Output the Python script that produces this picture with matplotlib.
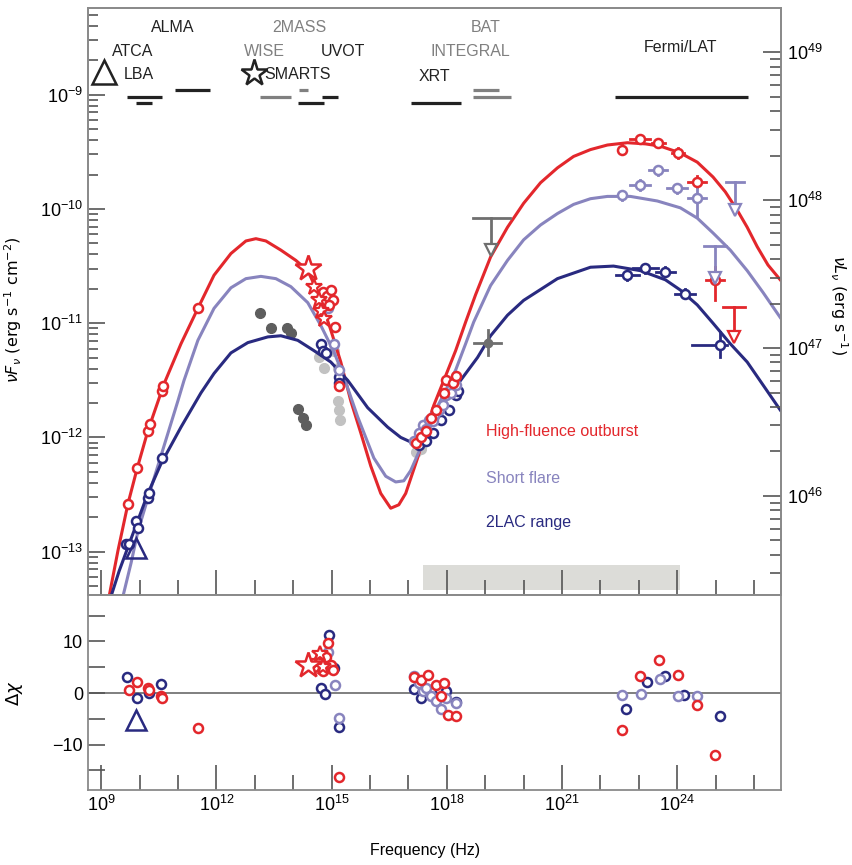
import numpy as np
import matplotlib
matplotlib.use('Agg')
import matplotlib.pyplot as plt
from matplotlib.ticker import FixedLocator, LogLocator, NullFormatter

plt.rcParams['font.family'] = ['Liberation Sans', 'DejaVu Sans']

RED = '#e3272c'
LILAC = '#8884be'
NAVY = '#292a80'
DGREY = '#5e5e5e'
LGREY = '#c2c2c2'
TGREY = '#808080'
INK = '#222222'

# ---- model curves: log10(nu / Hz), log10(nuFnu / erg s-1 cm-2) ----
red_curve_x = [9.21, 9.44, 9.70, 9.94, 10.22, 10.64, 11.08, 11.52, 11.94, 12.38, 12.77, 13.03,
               13.29, 13.68, 14.07, 14.38, 14.67, 14.98, 15.24, 15.50, 15.76, 16.02, 16.28,
               16.54, 16.75, 16.93, 17.24, 17.45, 17.66, 17.97, 18.23, 18.49, 18.75, 19.14,
               19.58, 20.00, 20.44, 20.88, 21.30, 21.74, 22.18, 22.70, 23.17, 23.56, 24.08,
               24.52, 24.93, 25.25, 25.56, 25.82, 26.08, 26.36, 26.68]
red_curve_y = [-13.39, -12.99, -12.58, -12.27, -11.94, -11.53, -11.18, -10.87, -10.58, -10.39,
               -10.28, -10.26, -10.28, -10.36, -10.45, -10.54, -10.75, -11.06, -11.34, -11.68,
               -11.96, -12.25, -12.49, -12.62, -12.59, -12.49, -12.18, -11.94, -11.72, -11.46,
               -11.24, -10.99, -10.75, -10.42, -10.16, -9.95, -9.77, -9.64, -9.54, -9.48,
               -9.44, -9.42, -9.43, -9.45, -9.51, -9.59, -9.72, -9.85, -10.01, -10.16, -10.33,
               -10.49, -10.62]

lilac_curve_x = [9.57, 9.78, 9.96, 10.22, 10.56, 11.00, 11.16, 11.52, 11.94, 12.38, 12.77, 13.16,
                 13.55, 13.94, 14.38, 14.72, 15.06, 15.32, 15.68, 16.10, 16.41, 16.67, 16.88,
                 17.06, 17.40, 17.71, 17.97, 18.23, 18.49, 18.70, 19.14, 19.58, 20.00, 20.44,
                 20.88, 21.30, 21.74, 22.18, 22.78, 23.48, 24.08, 24.52, 24.93, 25.38, 25.82,
                 26.23, 26.68]
lilac_curve_y = [-13.39, -13.10, -12.82, -12.53, -12.16, -11.68, -11.50, -11.15, -10.87, -10.69,
                 -10.61, -10.59, -10.61, -10.68, -10.82, -11.02, -11.25, -11.47, -11.82, -12.18,
                 -12.34, -12.39, -12.38, -12.29, -12.03, -11.76, -11.59, -11.41, -11.18, -10.99,
                 -10.67, -10.45, -10.27, -10.14, -10.04, -9.96, -9.91, -9.89, -9.89, -9.93,
                 -9.99, -10.08, -10.21, -10.36, -10.54, -10.73, -10.95]

navy_curve_x = [9.26, 9.47, 9.70, 10.22, 10.56, 11.08, 11.60, 11.94, 12.38, 12.82, 13.34, 13.68,
                14.12, 14.54, 14.98, 15.42, 15.94, 16.46, 16.80, 17.06, 17.40, 17.84, 18.36,
                18.80, 19.14, 19.58, 20.00, 20.88, 21.74, 22.34, 23.04, 23.69, 24.08, 24.52,
                24.93, 25.38, 25.82, 26.23, 26.68]
navy_curve_y = [-13.39, -13.17, -12.96, -12.49, -12.23, -11.91, -11.61, -11.44, -11.26, -11.17,
                -11.12, -11.11, -11.15, -11.24, -11.34, -11.50, -11.74, -11.91, -12.00, -12.04,
                -12.00, -11.74, -11.50, -11.30, -11.11, -10.93, -10.80, -10.61, -10.51, -10.50,
                -10.54, -10.62, -10.71, -10.84, -11.00, -11.18, -11.34, -11.54, -11.76]

# ---- measurements (log10 nu, log10 nuFnu) ----
red_pts_x = [9.70, 9.94, 10.22, 10.27, 10.59, 10.61, 11.52,
             14.77, 14.87, 14.98, 15.03, 14.93, 15.08, 15.19,
             17.19, 17.32, 17.45, 17.58, 17.71, 17.92, 17.99, 18.15, 18.25]
red_pts_y = [-12.58, -12.27, -11.94, -11.88, -11.59, -11.55, -10.87,
             -10.73, -10.76, -10.71, -10.80, -10.84, -11.03, -11.55,
             -12.05, -12.00, -11.94, -11.83, -11.76, -11.61, -11.50, -11.52, -11.46]
red_star_x = [14.54, 14.67, 14.72, 14.80]
red_star_y = [-10.68, -10.80, -10.89, -10.96]
red_bigstar = (14.38, -10.52)

lilac_pts_x = [14.90, 15.06, 15.19,
               17.14, 17.27, 17.37, 17.53, 17.66, 17.79, 17.89, 17.99, 18.10, 18.23, 17.45, 17.63]
lilac_pts_y = [-10.87, -11.18, -11.41,
               -12.03, -11.96, -11.89, -11.85, -11.81, -11.76, -11.72, -11.63, -11.61, -11.54,
               -11.93, -11.86]

navy_pts_x = [9.65, 9.73, 9.91, 9.96, 10.22, 10.25, 10.59,
              14.72, 14.77, 14.85, 15.19, 15.19,
              17.27, 17.45, 17.63, 17.84, 18.05, 18.25, 18.30]
navy_pts_y = [-12.93, -12.93, -12.73, -12.79, -12.53, -12.49, -12.18,
              -11.18, -11.24, -11.26, -11.47, -11.52,
              -12.07, -12.03, -11.96, -11.85, -11.76, -11.63, -11.59]
navy_lba = (9.91, -12.97)

dgrey_x = [13.13, 13.42, 13.83, 13.94, 14.12, 14.25, 14.33]
dgrey_y = [-10.91, -11.04, -11.04, -11.09, -11.75, -11.83, -11.89]
lgrey_x = [14.67, 14.80, 15.06, 15.16, 15.16, 15.19, 15.21, 17.19, 17.32]
lgrey_y = [-11.30, -11.39, -11.24, -11.39, -11.68, -11.76, -11.85, -12.13, -12.10]

# gamma-ray spectra: x, y, half-width low/high (dex), y error low/high (dex)
red_gam_x = [22.57, 23.04, 23.50, 24.02, 24.52, 24.98]
red_gam_y = [-9.48, -9.39, -9.42, -9.51, -9.76, -10.62]
red_gam_dx = [0.0, 0.26, 0.17, 0.15, 0.23, 0.23]
red_gam_dylo = [0.04, 0.03, 0.03, 0.04, 0.05, 0.18]
red_gam_dyhi = [0.04, 0.03, 0.03, 0.04, 0.05, 0.11]

lilac_gam_x = [22.57, 23.04, 23.50, 24.00, 24.52]
lilac_gam_y = [-9.88, -9.79, -9.66, -9.82, -9.90]
lilac_gam_dx = [0.0, 0.26, 0.23, 0.26, 0.23]
lilac_gam_dylo = [0.04, 0.04, 0.04, 0.04, 0.17]
lilac_gam_dyhi = [0.04, 0.04, 0.04, 0.04, 0.13]

navy_gam_x = [22.70, 23.17, 23.69, 24.21, 25.11]
navy_gam_y = [-10.58, -10.52, -10.55, -10.74, -11.19]
navy_gam_dxlo = [0.30, 0.32, 0.25, 0.26, 0.73]
navy_gam_dxhi = [0.30, 0.32, 0.25, 0.26, 0.18]
navy_gam_dy = [0.04, 0.04, 0.04, 0.04, 0.11]

# upper limits: x, y, half-width, arrow tip
red_ul = (25.48, -10.86, 0.28, -11.12)
lilac_ul = [(24.98, -10.32, 0.28, -10.60), (25.51, -9.76, 0.23, -10.01)]
grey_ul = (19.16, -10.08, 0.48, -10.36)
grey_cross = (19.06, -11.17, 0.35, 0.11)

# ---- residuals (log10 nu, delta chi) ----
res_red_x = [9.73, 9.94, 10.22, 10.25, 10.56, 10.59, 11.52,
             14.54, 14.67, 14.77, 14.85, 14.90, 14.98, 15.03, 15.19,
             17.14, 17.32, 17.50, 17.71, 17.84, 17.92, 18.02, 18.25,
             22.57, 23.04, 23.53, 24.02, 24.52, 24.98]
res_red_y = [0.6, 2.1, 1.0, 0.5, -0.6, -1.0, -6.8,
             5.0, 6.5, 4.2, 7.0, 9.7, 5.5, 4.5, -16.3,
             3.1, 2.5, 3.5, 1.5, -0.5, 2.0, -4.3, -4.5,
             -7.2, 3.3, 6.4, 3.5, -2.3, -12.1]
res_red_star_x = [14.62, 14.70, 14.78]
res_red_star_y = [6.0, 7.5, 5.0]
res_red_bigstar = (14.38, 5.4)

res_lilac_x = [14.90, 15.08, 15.19,
               17.14, 17.27, 17.37, 17.45, 17.58, 17.71, 17.84, 17.99, 18.23,
               22.57, 23.06, 23.56, 24.02, 24.52]
res_lilac_y = [8.0, 1.6, -4.9,
               3.3, 2.0, 0.3, 1.0, -0.5, -1.5, -3.0, -1.0, -2.0,
               -0.4, -0.2, 2.7, -0.6, -0.6]

res_navy_x = [9.68, 9.94, 10.25, 10.56,
              14.72, 14.82, 14.93, 15.06, 15.19,
              17.14, 17.32, 17.58, 17.97, 18.25,
              22.67, 23.22, 23.69, 24.18, 25.11]
res_navy_y = [3.1, -1.0, 0.0, 1.7,
              1.0, -0.2, 11.3, 4.9, -6.6,
              0.8, -1.0, 0.5, 0.3, -1.7,
              -3.1, 2.1, 3.3, -0.4, -4.5]
res_navy_lba = (9.91, -5.2)

# ---- instrument coverage bars: log nu start, log nu end, log level, colour ----
bar_lo = [9.68, 9.91, 10.92, 13.13, 14.15, 14.12, 14.74, 17.08, 18.67, 18.67, 22.39]
bar_hi = [10.59, 10.33, 11.83, 13.94, 14.38, 14.80, 15.16, 18.38, 19.35, 19.68, 25.84]
bar_lev = [-9.02, -9.07, -8.96, -9.02, -8.96, -9.07, -9.02, -9.07, -8.96, -9.02, -9.02]
bar_col = [INK, INK, INK, TGREY, TGREY, INK, INK, INK, TGREY, TGREY, INK]

inst_names = ['ALMA', 'ATCA', 'LBA', '2MASS', 'WISE', 'UVOT', 'SMARTS', 'BAT', 'INTEGRAL', 'XRT', 'Fermi/LAT']
inst_x = [10.87, 9.81, 9.99, 14.15, 13.24, 15.29, 14.12, 19.01, 18.62, 17.68, 24.08]
inst_y = [-8.41, -8.62, -8.82, -8.41, -8.62, -8.62, -8.82, -8.41, -8.62, -8.84, -8.59]
inst_col = [INK, INK, INK, TGREY, TGREY, INK, INK, TGREY, TGREY, INK, INK]

legend_labels = ['High-fluence outburst', 'Short flare', '2LAC range']
legend_cols = [RED, LILAC, NAVY]

band_range = (17.37, 24.08, -13.34, -13.12)

P = lambda v: 10.0 ** np.asarray(v)

fig = plt.figure(figsize=(8.53, 8.65), dpi=100)
ax = fig.add_axes([0.1032, 0.3121, 0.8124, 0.6787])
axr = fig.add_axes([0.1032, 0.0867, 0.8124, 0.2254])
XLIM = (10 ** 8.66, 10 ** 26.7)


def circles(a, x, y, c, ms=6.5, z=5):
    a.plot(P(x), y if a is axr else P(y), 'o', ms=ms, mfc='white', mec=c, mew=1.8,
           ls='none', zorder=z)


# curves
ax.plot(P(red_curve_x), P(red_curve_y), color=RED, lw=2.2, zorder=3)
ax.plot(P(lilac_curve_x), P(lilac_curve_y), color=LILAC, lw=2.2, zorder=3)
ax.plot(P(navy_curve_x), P(navy_curve_y), color=NAVY, lw=2.2, zorder=3)

# archival grey data
ax.plot(P(dgrey_x), P(dgrey_y), 'o', ms=7, color=DGREY, ls='none', zorder=2)
ax.plot(P(lgrey_x), P(lgrey_y), 'o', ms=7, color=LGREY, ls='none', zorder=2)

# measurements
circles(ax, navy_pts_x, navy_pts_y, NAVY)
circles(ax, lilac_pts_x, lilac_pts_y, LILAC)
circles(ax, red_pts_x, red_pts_y, RED)
ax.plot(P(red_star_x), P(red_star_y), '*', ms=12, mfc='white', mec=RED, mew=1.6, ls='none', zorder=6)
ax.plot(P(red_bigstar[0]), P(red_bigstar[1]), '*', ms=19, mfc='white', mec=RED, mew=1.8, zorder=6)
ax.plot(P(navy_lba[0]), P(navy_lba[1]), '^', ms=15, mfc='none', mec=NAVY, mew=1.8, zorder=6)


def gamma(gx, gy, dxlo, dxhi, dylo, dyhi, c):
    for x, y, a, b, lo, hi in zip(gx, gy, dxlo, dxhi, dylo, dyhi):
        ax.plot([P(x - a), P(x + b)], [P(y), P(y)], color=c, lw=2, zorder=4)
        ax.plot([P(x), P(x)], [P(y - lo), P(y + hi)], color=c, lw=2, zorder=4)
    circles(ax, gx, gy, c)


gamma(red_gam_x, red_gam_y, red_gam_dx, red_gam_dx, red_gam_dylo, red_gam_dyhi, RED)
gamma(lilac_gam_x, lilac_gam_y, lilac_gam_dx, lilac_gam_dx, lilac_gam_dylo, lilac_gam_dyhi, LILAC)
gamma(navy_gam_x, navy_gam_y, navy_gam_dxlo, navy_gam_dxhi, navy_gam_dy, navy_gam_dy, NAVY)


def upper(ul, c):
    x, y, w, tip = ul
    ax.plot([P(x - w), P(x + w)], [P(y), P(y)], color=c, lw=2, zorder=4)
    ax.plot([P(x), P(x)], [P(y), P(tip)], color=c, lw=2, zorder=4)
    ax.plot(P(x), P(tip), 'v', ms=8, mfc='white', mec=c, mew=1.6, zorder=5)


upper(red_ul, RED)
for ul in lilac_ul:
    upper(ul, LILAC)
upper(grey_ul, '#6f6f6f')
gx, gy, gw, gh = grey_cross
ax.plot([P(gx - gw), P(gx + gw)], [P(gy), P(gy)], color='#6f6f6f', lw=2, zorder=4)
ax.plot([P(gx), P(gx)], [P(gy - gh), P(gy + gh)], color='#6f6f6f', lw=2, zorder=4)
ax.plot(P(gx), P(gy), 'o', ms=6, color='#6f6f6f', zorder=5)

# shaded band
b0, b1, b2, b3 = band_range
ax.fill_between([P(b0), P(b1)], P(b2), P(b3), color='#dcdcd8', lw=0, zorder=1)

# instrument bars and labels
for lo, hi, lev, c in zip(bar_lo, bar_hi, bar_lev, bar_col):
    ax.plot([P(lo), P(hi)], [P(lev), P(lev)], color=c, lw=2.3, solid_capstyle='butt', zorder=4)
for name, x, y, c in zip(inst_names, inst_x, inst_y, inst_col):
    ax.text(P(x), P(y), name, color=c, fontsize=11.5, ha='center', va='center')
ax.plot(P(9.08), P(-8.80), '^', ms=17, mfc='none', mec=INK, mew=1.8)
ax.plot(P(12.98), P(-8.81), '*', ms=20, mfc='none', mec=INK, mew=1.8)

for lab, c, yy in zip(legend_labels, legend_cols, [0.278, 0.199, 0.124]):
    ax.text(0.574, yy, lab, color=c, fontsize=11.5, transform=ax.transAxes, va='center', ha='left')

# axes styling
for a in (ax, axr):
    a.set_xscale('log')
    a.set_xlim(*XLIM)
    a.xaxis.set_major_locator(FixedLocator(P(np.arange(9, 25, 3))))
    a.xaxis.set_minor_locator(FixedLocator(P(np.arange(9, 27))))
    a.xaxis.set_minor_formatter(NullFormatter())
    a.tick_params(axis='x', which='major', direction='in', length=18, width=1.2, color='#555555', labelsize=13)
    a.tick_params(axis='x', which='minor', direction='in', length=11, width=1.2, color='#555555')
    for s in a.spines.values():
        s.set_color('#8a8a8a')
        s.set_linewidth(1.3)

ax.set_yscale('log')
ax.set_ylim(10 ** -13.38, 10 ** -8.24)
ax.yaxis.set_major_locator(LogLocator(base=10, numticks=20))
ax.yaxis.set_minor_locator(LogLocator(base=10, subs=np.arange(2, 10), numticks=20))
ax.yaxis.set_minor_formatter(NullFormatter())
ax.tick_params(axis='y', which='major', direction='in', length=12, width=1.2, color='#555555', labelsize=13)
ax.tick_params(axis='y', which='minor', direction='in', length=7, width=1.2, color='#555555')
ax.tick_params(axis='x', labelbottom=False)
ax.set_ylabel(r'$\nu F_{\nu}$ (erg s$^{-1}$ cm$^{-2}$)', fontsize=11.5, family='DejaVu Sans')
ax.yaxis.set_label_coords(-0.093, 0.486)

ax2 = ax.twinx()
ax2.set_yscale('log')
ax2.set_ylim(10 ** 45.33, 10 ** 49.30)
ax2.yaxis.set_major_locator(LogLocator(base=10, numticks=20))
ax2.yaxis.set_minor_locator(LogLocator(base=10, subs=np.arange(2, 10), numticks=20))
ax2.yaxis.set_minor_formatter(NullFormatter())
ax2.tick_params(axis='y', which='major', direction='in', length=13, width=1.2, color='#555555',
                labelsize=13, pad=4)
ax2.tick_params(axis='y', which='minor', direction='in', length=8, width=1.2, color='#555555')
for s in ax2.spines.values():
    s.set_color('#8a8a8a')
    s.set_linewidth(1.3)
ax2.set_ylabel(r'$\nu L_{\nu}$ (erg s$^{-1}$)', fontsize=11.5, family='DejaVu Sans', rotation=270, va='center')
ax2.yaxis.set_label_coords(1.083, 0.494)

# residual panel
axr.axhline(0, color='#7f7f7f', lw=1.4, zorder=1)
circles(axr, res_navy_x, res_navy_y, NAVY)
circles(axr, res_lilac_x, res_lilac_y, LILAC)
circles(axr, res_red_x, res_red_y, RED)
axr.plot(P(res_red_star_x), res_red_star_y, '*', ms=12, mfc='white', mec=RED, mew=1.6, ls='none', zorder=6)
axr.plot(P(res_red_bigstar[0]), res_red_bigstar[1], '*', ms=19, mfc='white', mec=RED, mew=1.8, zorder=6)
axr.plot(P(res_navy_lba[0]), res_navy_lba[1], '^', ms=15, mfc='none', mec=NAVY, mew=1.8, zorder=6)
axr.set_ylim(-18.8, 19.0)
axr.yaxis.set_major_locator(FixedLocator([-10, 0, 10]))
axr.yaxis.set_minor_locator(FixedLocator([-15, -5, 5, 15]))
axr.set_yticklabels(['\u221210', '0', '10'])
axr.tick_params(axis='y', which='both', direction='in', length=12, width=1.2, color='#555555', labelsize=13)
axr.set_ylabel(r'$\Delta\chi$', fontsize=13, family='DejaVu Sans')
axr.yaxis.set_label_coords(-0.091, 0.497)
axr.set_xlabel('Frequency (Hz)', fontsize=11.5, va='center')
axr.xaxis.set_label_coords(0.486, -0.308)

fig.savefig('out.png', dpi=100)
